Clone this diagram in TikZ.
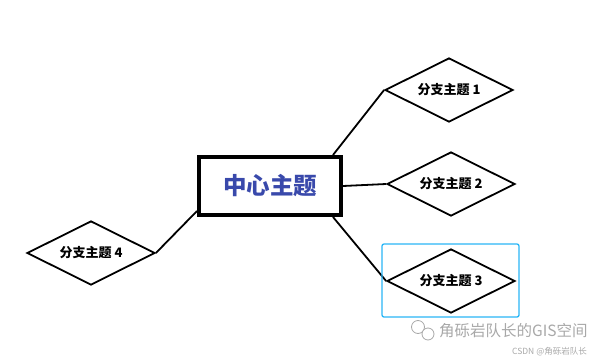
\documentclass[tikz,border=0pt]{standalone}
\usepackage{fontspec}
\setmainfont{Noto Sans CJK SC}
\usepackage{tikz}
\usetikzlibrary{shapes.geometric, calc}
\definecolor{topicblue}{HTML}{3949AB}
\definecolor{selcyan}{HTML}{29B6F6}
\definecolor{markgray}{HTML}{A8A8A8}
\tikzset{
  topic/.style  = {draw, rectangle, line width=4pt, minimum width=142pt,
                   minimum height=58pt, inner sep=0pt, text=topicblue,
                   font=\fontsize{23.5}{26}\selectfont\bfseries},
  branch/.style = {draw, diamond, line width=1.8pt, minimum width=128pt,
                   minimum height=64pt, inner sep=0pt, aspect=2,
                   font=\fontsize{13}{15}\selectfont\bfseries},
  link/.style   = {line width=1.8pt},
  sel/.style    = {draw=selcyan, line width=1.3pt, rounded corners=2pt},
  wmark/.style  = {text=markgray, inner sep=0pt},
}

\begin{document}
\begin{tikzpicture}[x=1pt, y=-1pt]
    \useasboundingbox (0,0) rectangle (600,362);
    \node[topic] (center) at (270,186) {中心主题};
    \node[branch] (br1) at (449,90) {分支主题 1};
    \node[branch] (br2) at (451,184) {分支主题 2};
    \node[branch] (br3) at (451,281) {分支主题 3};
    \node[branch] (br4) at (91,253) {分支主题 4};
    \draw[link] ([xshift=-10pt]center.north east) -- (br1.west);
    \draw[link] ([yshift=0pt]center.east) -- (br2.west);
    \draw[link] ([xshift=-10pt]center.south east) -- (br3.west);
    \draw[link] ([yshift=6pt]center.south west) -- (br4.east);
    \draw[sel] (382,244) rectangle (519,317);
    % watermark
    \draw[markgray, line width=0.8pt] (418,327) circle (6.5);
    \draw[markgray, line width=0.8pt, fill=white] (428,334) circle (6);
    \node[wmark, anchor=west, font=\fontsize{15.5}{17}\selectfont] (wm) at (439,331) {角砾岩队长的GIS空间};
    \node[wmark, anchor=east, font=\fontsize{8.5}{10}\selectfont] (csdn) at (587,352) {CSDN @角砾岩队长};
\end{tikzpicture}
\end{document}
